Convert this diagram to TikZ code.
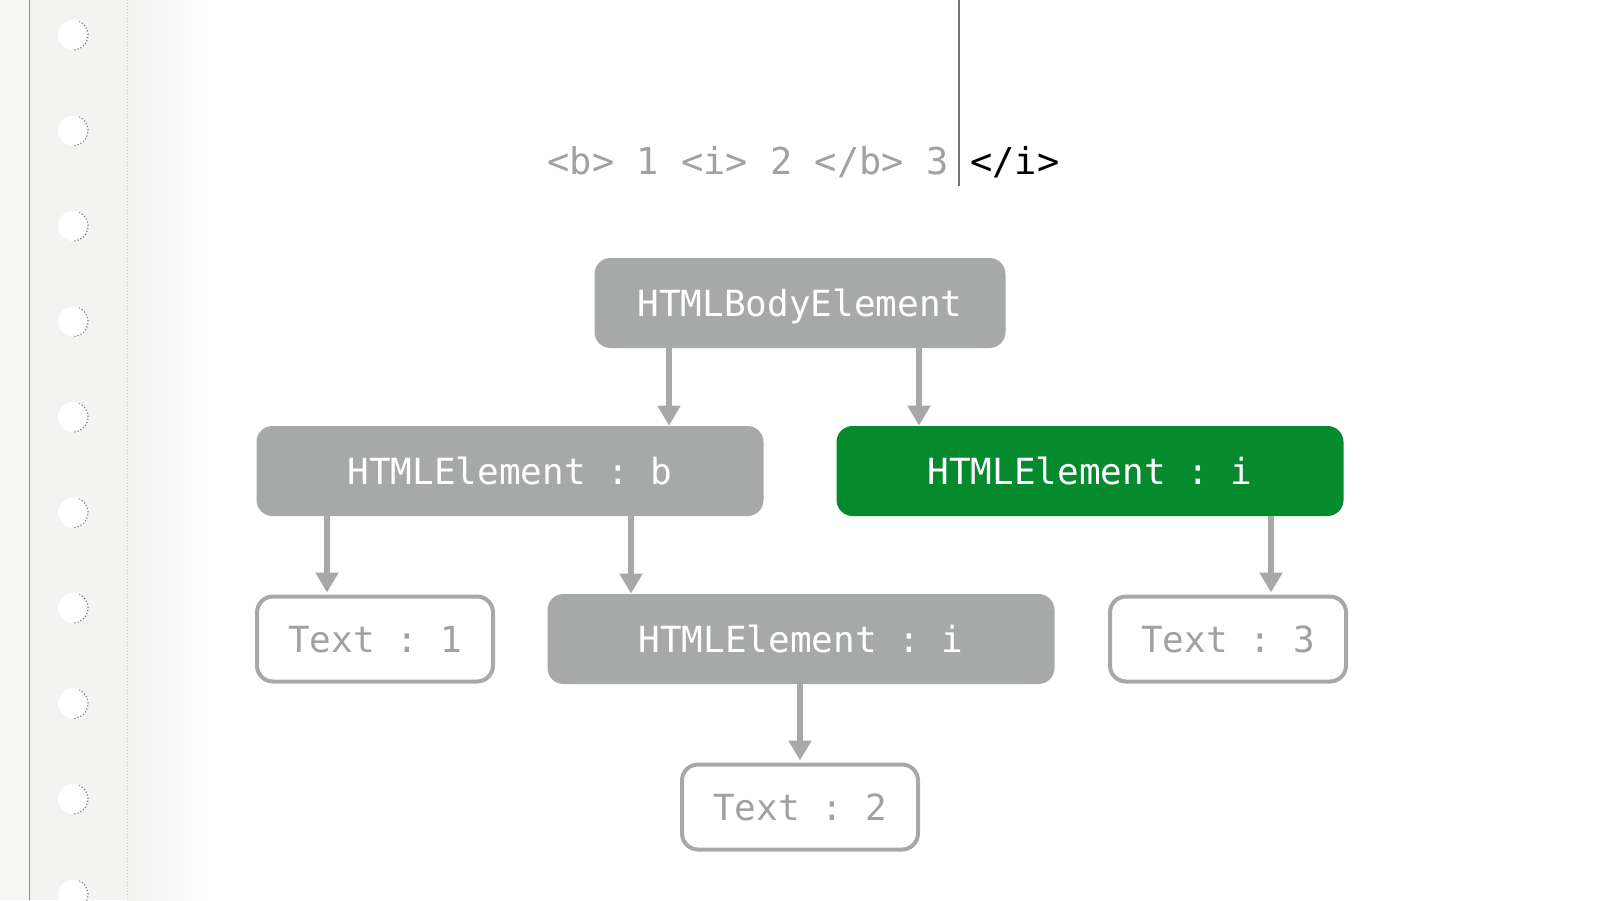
\documentclass[tikz,border=0pt]{standalone}
\usepackage{fontspec}
\setmonofont{DejaVu Sans Mono}
\usetikzlibrary{arrows.meta,positioning,calc}
\definecolor{boxgray}{HTML}{A6A9A8}
\definecolor{boxgreen}{HTML}{058A2D}
\definecolor{txtgray}{HTML}{A0A2A1}
\definecolor{stripa}{HTML}{F6F6F5}
\definecolor{stripb}{HTML}{F3F3F2}
\tikzset{
  base/.style={rectangle, rounded corners=8pt, inner sep=0pt, minimum height=45pt,
    text height=13.5pt, text depth=0pt,
    font=\ttfamily\fontsize{18}{20}\selectfont},
  graybox/.style={base, fill=boxgray, text=white, minimum width=253.5pt},
  greenbox/.style={base, fill=boxgreen, text=white, minimum width=253.5pt},
  textbox/.style={base, draw=boxgray, line width=2pt, fill=white, text=txtgray,
    minimum width=118pt, minimum height=42.5pt},
  arr/.style={draw=boxgray, line width=2.7pt, -{Triangle[width=11pt,length=10pt]}},
  hole/.style={fill=white},
}
\begin{document}
\begin{tikzpicture}[x=0.5pt,y=-0.5pt]
\useasboundingbox (0,0) rectangle (1600,900);
% background paper
\fill[white] (0,0) rectangle (1600,900);
\shade[left color=stripb, right color=white] (127,0) rectangle (215,900);
\fill[stripa] (0,0) rectangle (29,900);
\fill[stripb] (29,0) rectangle (127,900);
\draw[black!45, line width=0.5pt] (29,0) -- (29,900);
\draw[black!22, line width=0.5pt, densely dotted] (127,0) -- (127,900);
\foreach \k in {0,...,9} {
  \fill[hole] (73,{35+95.5*\k}) circle (7.5pt);
  \draw[black!50, line width=0.6pt, densely dotted] (73,{35+95.5*\k}) ++(-85:7.5pt) arc (-85:65:7.5pt);
}
% cursor and source text
\coordinate (cursTop) at (959,0);
\coordinate (cursBot) at (959,186);
\draw[black!55, line width=1pt] (cursTop) -- (cursBot);
\node[font=\ttfamily\fontsize{18.5}{20}\selectfont, text=txtgray, anchor=east, inner sep=0pt] (src) at (949,162) {<b> 1 <i> 2 </b> 3};
\node[font=\ttfamily\fontsize{18.5}{20}\selectfont, text=black, anchor=west, inner sep=0pt] (close) at (970,162) {</i>};
% tree
\node[graybox, minimum width=205.5pt] (body) at (800,303) {HTMLBodyElement};
\node[graybox] (eb) at (510,471) {HTMLElement : b};
\node[greenbox] (ei) at (1090,471) {HTMLElement : i};
\node[textbox] (t1) at (375,639) {Text : 1};
\node[graybox] (ei2) at (801,639) {HTMLElement : i};
\node[textbox] (t3) at (1228,639) {Text : 3};
\node[textbox] (t2) at (800,807) {Text : 2};
% connectors
\draw[arr] (body.south -| 669,0) -- (eb.north -| 669,0);
\draw[arr] (body.south -| 919,0) -- (ei.north -| 919,0);
\draw[arr] (eb.south -| 327,0) -- ([yshift=1pt]t1.north -| 327,0);
\draw[arr] (eb.south -| 631,0) -- (ei2.north -| 631,0);
\draw[arr] (ei.south -| 1271,0) -- ([yshift=1pt]t3.north -| 1271,0);
\draw[arr] (ei2.south -| 800,0) -- ([yshift=1pt]t2.north -| 800,0);
\end{tikzpicture}
\end{document}
